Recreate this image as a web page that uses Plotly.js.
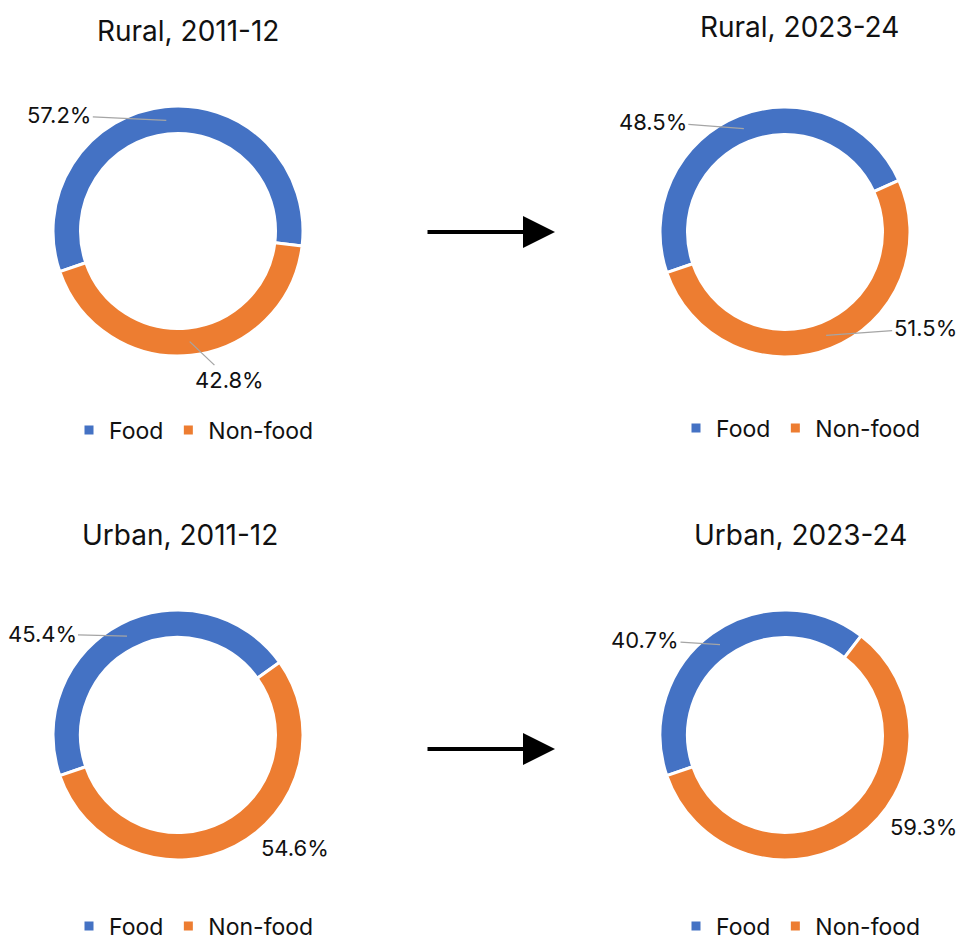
<!DOCTYPE html>
<html>
<head>
<meta charset="utf-8">
<script src="https://cdn.plot.ly/plotly-3.0.1.min.js"></script>
<style>
  html, body { margin: 0; padding: 0; background: #fff; }
  #chart { width: 958px; height: 944px; }
</style>
</head>
<body>
<div id="chart"></div>
<script>
// data
var categories = ['Food', 'Non-food']
var chartTitles = ['Rural, 2011-12', 'Rural, 2023-24', 'Urban, 2011-12', 'Urban, 2023-24']
var rural2011 = [57.2, 42.8]
var rural2023 = [48.5, 51.5]
var urban2011 = [45.4, 54.6]
var urban2023 = [40.7, 59.3]
var seriesValues = [rural2011, rural2023, urban2011, urban2023]

// layout / style
var W = 958, H = 944
var FONT = 'Inter, "Open Sans", Roboto, sans-serif'
var TEXT = '#111111'
var colors = ['#4472C4', '#ED7D31']
var HOLE = 0.78
var ROTATION = 251
var pieBoxes = [
    { cx: 178, cy: 231, r: 125 },
    { cx: 785, cy: 232, r: 125 },
    { cx: 178, cy: 735, r: 125 },
    { cx: 785, cy: 735, r: 125 },
]
var titlePos = [[188, 31], [799, 27], [180, 535], [800, 535]]
var legendPos = [[194, 430], [801, 428], [194, 926], [801, 926]]
// label offsets from the middle of each slice (px), and whether a leader line is drawn
var labelOffsets = [
    [[-107, -5], [40, 38]],
    [[-91, -7], [99, -7]],
    [[-85, -2], [66, 14]],
    [[-75, -5], [74, 2]],
]
var leaderLines = [
    [true, true],
    [true, true],
    [true, false],
    [true, false],
]
var arrowRows = [232, 749]

function px(x) { return x / W }
function py(y) { return 1 - y / H }

var traces = []
var annotations = []
var layout = {
    width: W,
    height: H,
    margin: { l: 0, r: 0, t: 0, b: 0, autoexpand: false },
    paper_bgcolor: '#ffffff',
    plot_bgcolor: '#ffffff',
    font: { family: FONT, color: TEXT },
    showlegend: true,
    xaxis: { visible: false, fixedrange: true },
    yaxis: { visible: false, fixedrange: true },
}

seriesValues.forEach(function (values, k) {
    var box = pieBoxes[k]
    var legendId = k === 0 ? 'legend' : 'legend' + (k + 1)
    traces.push({
        type: 'pie',
        labels: categories,
        values: values,
        hole: HOLE,
        sort: false,
        direction: 'clockwise',
        rotation: ROTATION,
        textinfo: 'none',
        hoverinfo: 'label+percent',
        showlegend: false,
        marker: { colors: colors, line: { color: '#ffffff', width: 3 } },
        domain: {
            x: [px(box.cx - box.r), px(box.cx + box.r)],
            y: [py(box.cy + box.r), py(box.cy - box.r)],
        },
    })

    // one legend per donut: empty scatter entries carrying the slice colours
    categories.forEach(function (cat, i) {
        traces.push({
            type: 'scatter',
            mode: 'markers',
            x: [null],
            y: [null],
            name: cat,
            legend: legendId,
            marker: { symbol: 'square', size: 9, color: colors[i] },
            hoverinfo: 'skip',
        })
    })

    layout[legendId] = {
        orientation: 'h',
        x: px(legendPos[k][0]),
        y: py(legendPos[k][1]),
        xanchor: 'center',
        yanchor: 'middle',
        itemwidth: 30,
        font: { size: 23, family: FONT, color: TEXT },
        bgcolor: 'rgba(0,0,0,0)',
        itemclick: false,
        itemdoubleclick: false,
    }

    annotations.push({
        text: chartTitles[k],
        x: px(titlePos[k][0]),
        y: py(titlePos[k][1]),
        xref: 'paper', yref: 'paper',
        xanchor: 'center', yanchor: 'middle',
        showarrow: false,
        font: { size: 28, family: FONT, color: TEXT },
    })

    // slice labels anchored at the middle of each ring segment
    var total = values.reduce(function (a, b) { return a + b }, 0)
    var cum = 0
    var rMid = box.r * (1 + HOLE) / 2
    values.forEach(function (v, i) {
        var ang = (ROTATION + (cum + v / 2) / total * 360) * Math.PI / 180
        cum += v
        var ax = box.cx + rMid * Math.sin(ang)
        var ay = box.cy - rMid * Math.cos(ang)
        var off = labelOffsets[k][i]
        var ann = {
            text: v.toFixed(1) + '%',
            x: px(ax),
            y: py(ay),
            xref: 'paper', yref: 'paper',
            font: { size: 22, family: FONT, color: TEXT },
        }
        if (leaderLines[k][i]) {
            ann.showarrow = true
            ann.ax = off[0]
            ann.ay = off[1]
            ann.arrowhead = 0
            ann.arrowwidth = 1.3
            ann.arrowcolor = '#a5a5a5'
            ann.standoff = 0
        } else {
            ann.showarrow = false
            ann.xanchor = 'center'
            ann.yanchor = 'middle'
            ann.xshift = off[0]
            ann.yshift = -off[1]
        }
        annotations.push(ann)
    })
})

// the two "then -> now" arrows
arrowRows.forEach(function (y) {
    annotations.push({
        text: '',
        x: px(555),
        y: py(y),
        xref: 'paper', yref: 'paper',
        showarrow: true,
        ax: -129,
        ay: 0,
        arrowhead: 2,
        arrowsize: 1.6,
        arrowwidth: 4,
        arrowcolor: '#000000',
    })
})

layout.annotations = annotations

Plotly.newPlot('chart', traces, layout, { displayModeBar: false, staticPlot: true })
</script>
</body>
</html>
